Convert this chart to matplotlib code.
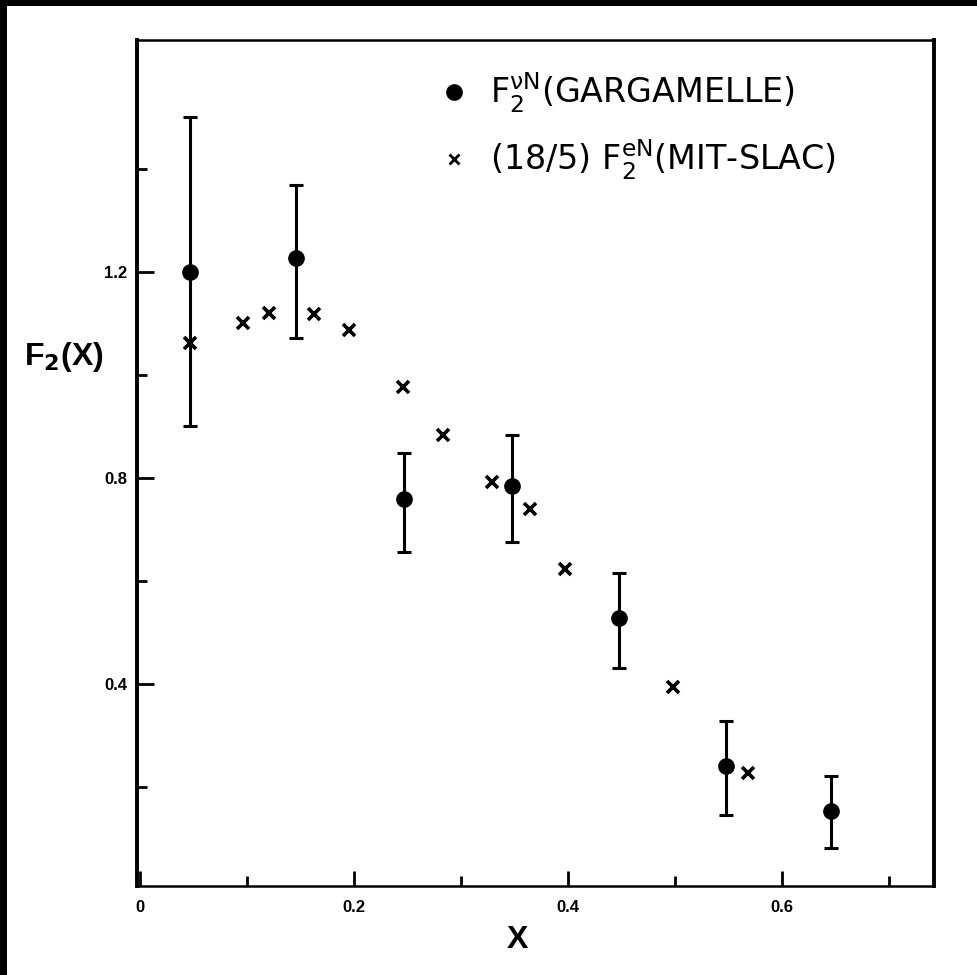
import matplotlib
matplotlib.use("Agg")
import matplotlib.pyplot as plt
from matplotlib.lines import Line2D
from matplotlib.patches import Rectangle
from matplotlib.ticker import FixedLocator

plt.rcParams['font.family'] = ['Liberation Sans', 'DejaVu Sans']
plt.rcParams['mathtext.fontset'] = 'dejavusans'

# Gargamelle neutrino data: F2 with asymmetric read-off errors
garg_x = [0.047, 0.146, 0.247, 0.348, 0.448, 0.548, 0.646]
garg_f2 = [1.20, 1.227, 0.759, 0.784, 0.528, 0.241, 0.153]
garg_err_lo = [0.30, 0.155, 0.103, 0.108, 0.097, 0.095, 0.071]
garg_err_hi = [0.30, 0.142, 0.090, 0.099, 0.088, 0.087, 0.068]

# MIT-SLAC electron data scaled by 18/5
slac_x = [0.047, 0.096, 0.121, 0.163, 0.195, 0.246, 0.283, 0.329, 0.364, 0.397, 0.498, 0.568]
slac_f2 = [1.062, 1.101, 1.120, 1.118, 1.087, 0.977, 0.883, 0.792, 0.740, 0.623, 0.394, 0.227]

x_major = [0.0, 0.2, 0.4, 0.6]
x_major_labels = ['0', '0.2', '0.4', '0.6']
x_minor = [0.1, 0.3, 0.5, 0.7]
y_major = [0.4, 0.8, 1.2]
y_major_labels = ['0.4', '0.8', '1.2']
y_minor = [0.2, 0.6, 1.0, 1.4]

W, H = 977, 975
fig = plt.figure(figsize=(W / 100, H / 100), dpi=100)
fig.patch.set_facecolor('white')

# dark scanner edge along top and left
fig.add_artist(Rectangle((0, 1 - 6 / H), 1, 6 / H, transform=fig.transFigure,
                         facecolor='black', edgecolor='none'))
fig.add_artist(Rectangle((0, 0), 7 / W, 1, transform=fig.transFigure,
                         facecolor='black', edgecolor='none'))

ax = fig.add_axes([137 / W, 1 - 886 / H, (934 - 137) / W, (886 - 40) / H])
ax.set_xlim(-0.0028, 0.742)
ax.set_ylim(0.008, 1.650)

for side in ['left', 'right']:
    ax.spines[side].set_linewidth(2.8)
for side in ['top', 'bottom']:
    ax.spines[side].set_linewidth(1.8)

ax.errorbar(garg_x, garg_f2, yerr=[garg_err_lo, garg_err_hi], fmt='o', color='black',
            markersize=11, elinewidth=2.2, capsize=5, capthick=2.2, zorder=3)
ax.plot(slac_x, slac_f2, 'x', color='black', markersize=8.5, markeredgewidth=2.6, zorder=4)

ax.xaxis.set_major_locator(FixedLocator(x_major))
ax.xaxis.set_minor_locator(FixedLocator(x_minor))
ax.set_xticklabels(x_major_labels)
ax.yaxis.set_major_locator(FixedLocator(y_major))
ax.yaxis.set_minor_locator(FixedLocator(y_minor))
ax.set_yticklabels(y_major_labels)

ax.tick_params(axis='both', which='both', direction='in', top=False, right=False,
               width=2.0)
ax.tick_params(axis='x', which='major', length=11, pad=10)
ax.tick_params(axis='x', which='minor', length=7)
ax.tick_params(axis='y', which='major', length=12, pad=7)
ax.tick_params(axis='y', which='minor', length=7)
for lab in ax.get_xticklabels() + ax.get_yticklabels():
    lab.set_fontsize(12)
    lab.set_fontweight('bold')

fig.text(64 / W, 1 - 357 / H, r'F$_\mathbf{2}$(X)', fontsize=23, fontweight='bold',
         ha='center', va='center')
fig.text(517 / W, 1 - 940 / H, 'X', fontsize=23, fontweight='bold',
         ha='center', va='center')

handles = [
    Line2D([], [], linestyle='none', marker='o', color='black', markersize=11),
    Line2D([], [], linestyle='none', marker='x', color='black', markersize=7,
           markeredgewidth=2.0),
]
labels = [r'F$_2^{\mathrm{\nu N}}$(GARGAMELLE)', r'(18/5) F$_2^{\mathrm{eN}}$(MIT-SLAC)']
leg = ax.legend(handles, labels, loc='upper left', bbox_to_anchor=(0.349, 0.995),
                frameon=False, handlelength=0.75, handletextpad=0.7,
                labelspacing=0.68, borderaxespad=0.4,
                prop={'family': 'DejaVu Sans', 'size': 24})

fig.savefig('out.png', dpi=100, facecolor='white')
